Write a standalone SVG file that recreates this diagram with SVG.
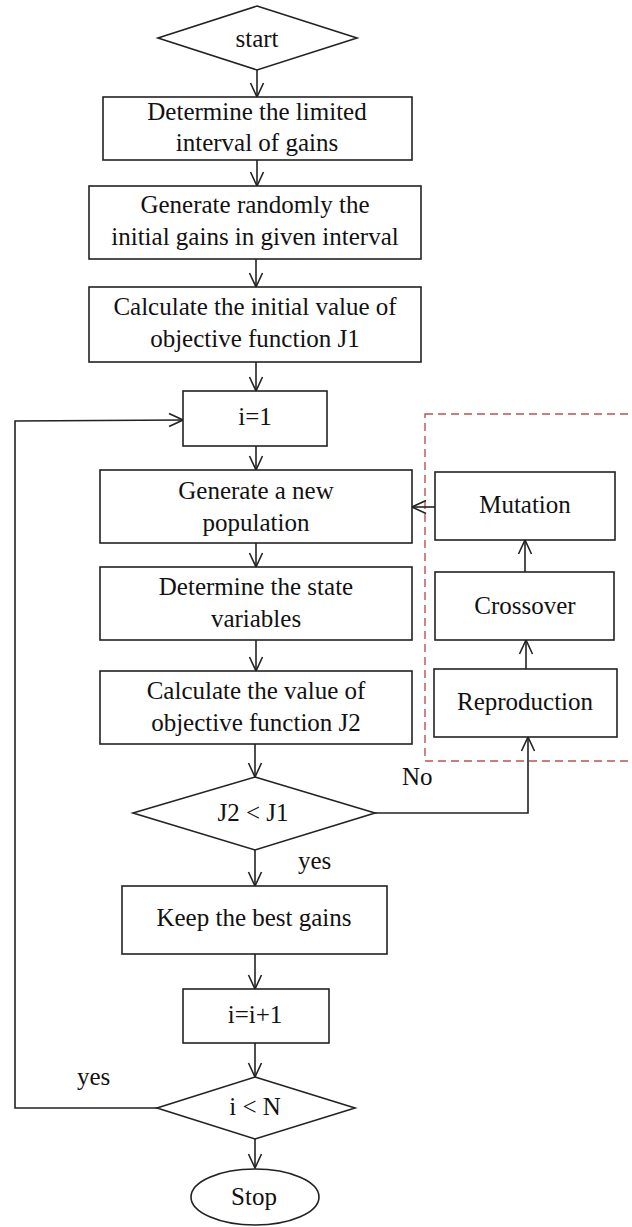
<svg xmlns="http://www.w3.org/2000/svg" width="632" height="1227" viewBox="0 0 632 1227">
<defs>
<marker id="arr" viewBox="0 0 16 16" refX="15" refY="8" markerWidth="16" markerHeight="16" markerUnits="userSpaceOnUse" orient="auto">
<path d="M1,1.5 L15,8 L1,14.5" fill="none" stroke="#222" stroke-width="1.6"/>
</marker>
</defs>
<style>
.box{fill:#fff;stroke:#222;stroke-width:1.6}
.t{font-family:"Liberation Serif","Times New Roman",serif;font-size:25px;fill:#111;text-anchor:middle}
.l{font-family:"Liberation Serif","Times New Roman",serif;font-size:25px;fill:#111}
.c{fill:none;stroke:#222;stroke-width:1.6}
.dash{fill:none;stroke:#c0504d;stroke-width:1.4;stroke-dasharray:8 5}
</style>
<rect width="632" height="1227" fill="#fff"/>
<rect class="dash" x="425" y="414" width="240" height="347"/>
<g id="connectors">
<line class="c" x1="257" y1="70" x2="257" y2="97" marker-end="url(#arr)"/>
<line class="c" x1="257" y1="160" x2="257" y2="186" marker-end="url(#arr)"/>
<line class="c" x1="256" y1="259" x2="256" y2="287" marker-end="url(#arr)"/>
<line class="c" x1="256" y1="362" x2="256" y2="391" marker-end="url(#arr)"/>
<line class="c" x1="256" y1="446" x2="256" y2="470" marker-end="url(#arr)"/>
<line class="c" x1="256" y1="543" x2="256" y2="567" marker-end="url(#arr)"/>
<line class="c" x1="256" y1="640" x2="256" y2="671" marker-end="url(#arr)"/>
<line class="c" x1="255" y1="744" x2="255" y2="777" marker-end="url(#arr)"/>
<line class="c" x1="255" y1="850" x2="255" y2="886" marker-end="url(#arr)"/>
<line class="c" x1="255" y1="954" x2="255" y2="989" marker-end="url(#arr)"/>
<line class="c" x1="255" y1="1043" x2="255" y2="1077" marker-end="url(#arr)"/>
<line class="c" x1="255" y1="1139" x2="255" y2="1168" marker-end="url(#arr)"/>
<polyline class="c" points="157,1108 15,1108 15,421 183,420" marker-end="url(#arr)"/>
<polyline class="c" points="375,813 528,813 528,737" marker-end="url(#arr)"/>
<line class="c" x1="526" y1="669" x2="526" y2="640" marker-end="url(#arr)"/>
<line class="c" x1="525" y1="572" x2="525" y2="540" marker-end="url(#arr)"/>
<line class="c" x1="435" y1="507" x2="412" y2="507" marker-end="url(#arr)"/>
</g>
<g id="start">
<polygon class="box" points="257,6 357,38 257,70 158,38"/>
<text class="t" x="257" y="47">start</text>
</g>
<g id="n1">
<rect class="box" x="103" y="97" width="309" height="63"/>
<text class="t" x="257" y="120">Determine the limited</text>
<text class="t" x="257" y="151">interval of gains</text>
</g>
<g id="n2">
<rect class="box" x="89" y="186" width="332" height="73"/>
<text class="t" x="255" y="213">Generate randomly the</text>
<text class="t" x="255" y="245">initial gains in given interval</text>
</g>
<g id="n3">
<rect class="box" x="89" y="287" width="332" height="75"/>
<text class="t" x="255" y="315">Calculate the initial value of</text>
<text class="t" x="255" y="347">objective function J1</text>
</g>
<g id="n4">
<rect class="box" x="183" y="391" width="144" height="55"/>
<text class="t" x="255" y="425">i=1</text>
</g>
<g id="n5">
<rect class="box" x="100" y="470" width="312" height="73"/>
<text class="t" x="256" y="499">Generate a new</text>
<text class="t" x="256" y="531">population</text>
</g>
<g id="n6">
<rect class="box" x="100" y="567" width="312" height="73"/>
<text class="t" x="256" y="595">Determine the state</text>
<text class="t" x="256" y="627">variables</text>
</g>
<g id="n7">
<rect class="box" x="100" y="671" width="312" height="73"/>
<text class="t" x="256" y="699">Calculate the value of</text>
<text class="t" x="256" y="731">objective function J2</text>
</g>
<g id="n8">
<polygon class="box" points="255,777 375,813 255,850 133,813"/>
<text class="t" x="253" y="821">J2 &lt; J1</text>
</g>
<g id="n9">
<rect class="box" x="122" y="886" width="265" height="68"/>
<text class="t" x="254" y="926">Keep the best gains</text>
</g>
<g id="n10">
<rect class="box" x="183" y="989" width="146" height="54"/>
<text class="t" x="255" y="1023">i=i+1</text>
</g>
<g id="n11">
<polygon class="box" points="255,1077 355,1108 255,1139 157,1108"/>
<text class="t" x="255" y="1115">i &lt; N</text>
</g>
<g id="n12">
<ellipse class="box" cx="255" cy="1197" rx="64" ry="28"/>
<text class="t" x="254" y="1205">Stop</text>
</g>
<g id="m1">
<rect class="box" x="435" y="472" width="180" height="68"/>
<text class="t" x="525" y="513">Mutation</text>
</g>
<g id="m2">
<rect class="box" x="435" y="572" width="179" height="68"/>
<text class="t" x="525" y="614">Crossover</text>
</g>
<g id="m3">
<rect class="box" x="434" y="669" width="183" height="68"/>
<text class="t" x="525" y="710">Reproduction</text>
</g>
<g id="labels">
<text class="l" x="402" y="785">No</text>
<text class="l" x="298" y="869">yes</text>
<text class="l" x="77" y="1085">yes</text>
</g>
</svg>
